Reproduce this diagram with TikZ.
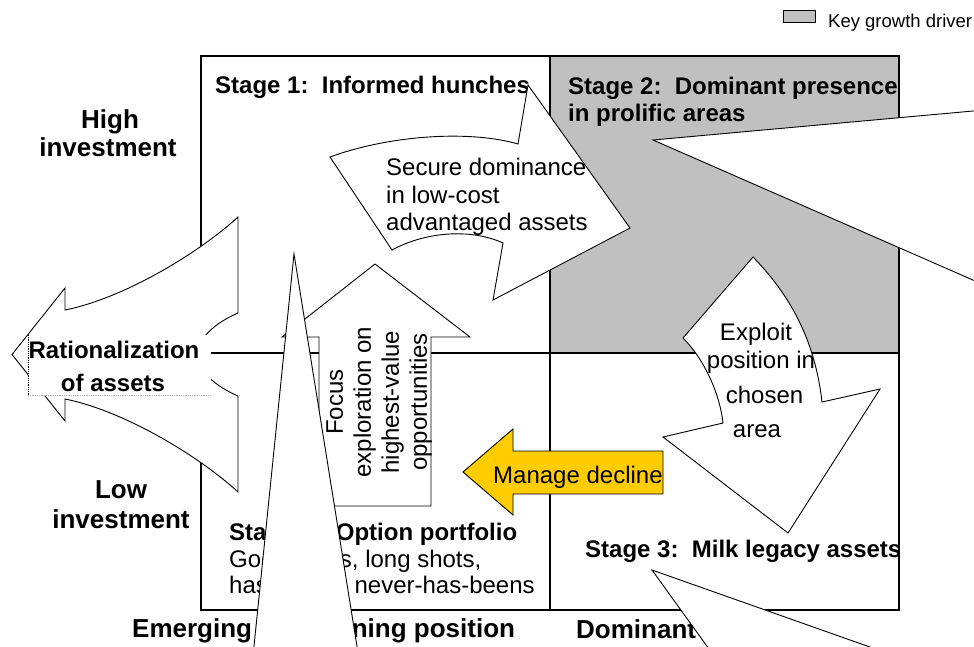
\documentclass[tikz,border=0pt]{standalone}
\usepackage{fontspec}
\setmainfont{Liberation Sans}
\definecolor{keygray}{HTML}{C0C0C0}
\definecolor{declineyellow}{HTML}{FFCC00}
\begin{document}
\begin{tikzpicture}[x=1pt,y=-1pt,
  gridline/.style={draw=black, line width=1.1pt},
  wshape/.style={draw=black, fill=white, line width=0.9pt, line join=miter},
  ylshape/.style={draw=black, fill=declineyellow, line width=0.9pt},
  boldlbl/.style={font=\fontsize{24}{28}\selectfont\bfseries, inner sep=0pt},
  axislbl/.style={font=\fontsize{26}{30}\selectfont\bfseries, inner sep=0pt},
  bodytxt/.style={font=\fontsize{24}{28}\selectfont, inner sep=0pt},
  keytxt/.style={font=\fontsize{18.5}{22}\selectfont, inner sep=0pt}]
\useasboundingbox (0,0) rectangle (974,646);
\clip (0,0) rectangle (974,646);
\fill[white] (0,0) rectangle (974,646);

% legend
\draw[line width=0.8pt, fill=keygray] (783,10) rectangle (815,22);
\node[keytxt, anchor=base west] (key) at (828,27) {Key growth driver};

% grid
\fill[keygray] (550,56) rectangle (899,353);
\draw[gridline] (201,56) rectangle (899,610);
\draw[gridline] (550,56) -- (550,610);
\draw[gridline] (201,353) -- (899,353);

% quadrant labels
\node[boldlbl, anchor=base west] (s1) at (215,93) {Stage 1:\ \ Informed hunches};
\node[boldlbl, anchor=base west] (s2a) at (568,94) {Stage 2:\ \ Dominant presence};
\node[boldlbl, anchor=base west] (s2b) at (568,121) {in prolific areas};
\node[boldlbl, anchor=base west] (s3) at (585,557) {Stage 3:\ \ Milk legacy assets};
\node[boldlbl, anchor=base west] (s4a) at (229,540) {Stage 4:\ \ Option portfolio};
\node[bodytxt, anchor=base west] (s4b) at (229,567) {Good ideas, long shots,};
\node[bodytxt, anchor=base west] (s4c) at (229,593) {has-beens, never-has-beens};

% axis labels
\node[axislbl, anchor=base] (hi1) at (110,128) {High};
\node[axislbl, anchor=base] (hi2) at (108,156) {investment};
\node[axislbl, anchor=base] (lo1) at (121,498) {Low};
\node[axislbl, anchor=base] (lo2) at (121,528) {investment};
\node[axislbl, anchor=base west] (emerg) at (132,637) {Emerging or declining position};
\node[axislbl, anchor=base west] (domin) at (576,638) {Dominant position};

% rationalization arrow
\draw[wshape] (238,217) -- (238,313) .. controls (215,323) and (198,338) .. (197,354.5)
  .. controls (198,371) and (215,386) .. (238,396) -- (238,492)
  .. controls (200,457) and (125,411) .. (65,399) -- (65,421) -- (12,354.5) -- (65,288) -- (65,310)
  .. controls (125,298) and (200,252) .. cycle;
\fill[white] (28,335) rectangle (211,395);
\draw[densely dotted, line width=0.8pt] (28,335) -- (28,395);
\draw[densely dotted, gray!60, line width=0.8pt] (28,395) -- (211,395);
\node[boldlbl, anchor=base] (rat1) at (114,358) {Rationalization};
\node[boldlbl, anchor=base] (rat2) at (113,391) {of assets};

% secure dominance arrow
\draw[wshape] (330,157) .. controls (390,135) and (470,130) .. (518,144) -- (528,85) -- (630,228)
  -- (493,300) -- (503,243) .. controls (470,228) and (425,232) .. (392,250) -- cycle;
\node[bodytxt, anchor=base west] (sec1) at (386,175) {Secure dominance};
\node[bodytxt, anchor=base west] (sec2) at (386,203) {in low-cost};
\node[bodytxt, anchor=base west] (sec3) at (386,230) {advantaged assets};

% focus exploration arrow
\draw[wshape] (319,506) -- (319,337) -- (282,337) -- (375,264) -- (470,337) -- (431,337) -- (431,506) -- cycle;
\node[bodytxt, rotate=90, align=center] (focus) at (379,402) {Focus\\exploration on\\highest-value\\opportunities};

% exploit arrow
\draw[wshape] (753,257) .. controls (790,295) and (815,340) .. (822,402) -- (880,389) -- (788,533)
  -- (663,437) -- (723,423) .. controls (720,395) and (705,360) .. (683,338) -- cycle;
\node[bodytxt, anchor=base] (ex1) at (756,340) {Exploit};
\node[bodytxt, anchor=base] (ex2) at (761,368) {position in};
\node[bodytxt, anchor=base] (ex3) at (764.5,403) {chosen};
\node[bodytxt, anchor=base] (ex4) at (757,437) {area};

% manage decline arrow
\draw[ylshape] (463,472) -- (513,429) -- (513,451) -- (663,451) -- (663,494) -- (513,494) -- (513,515) -- cycle;
\node[bodytxt, anchor=base west] (mdec) at (493,483) {Manage decline};

% callout pointers
\draw[wshape] (294,254) -- (243.8,746) -- (373,746) -- cycle;
\draw[wshape] (653,140) -- (1100,99.5) -- (1100,335.6) -- cycle;
\draw[wshape] (652,570) -- (779,746) -- (1150,746) -- cycle;
\end{tikzpicture}
\end{document}
